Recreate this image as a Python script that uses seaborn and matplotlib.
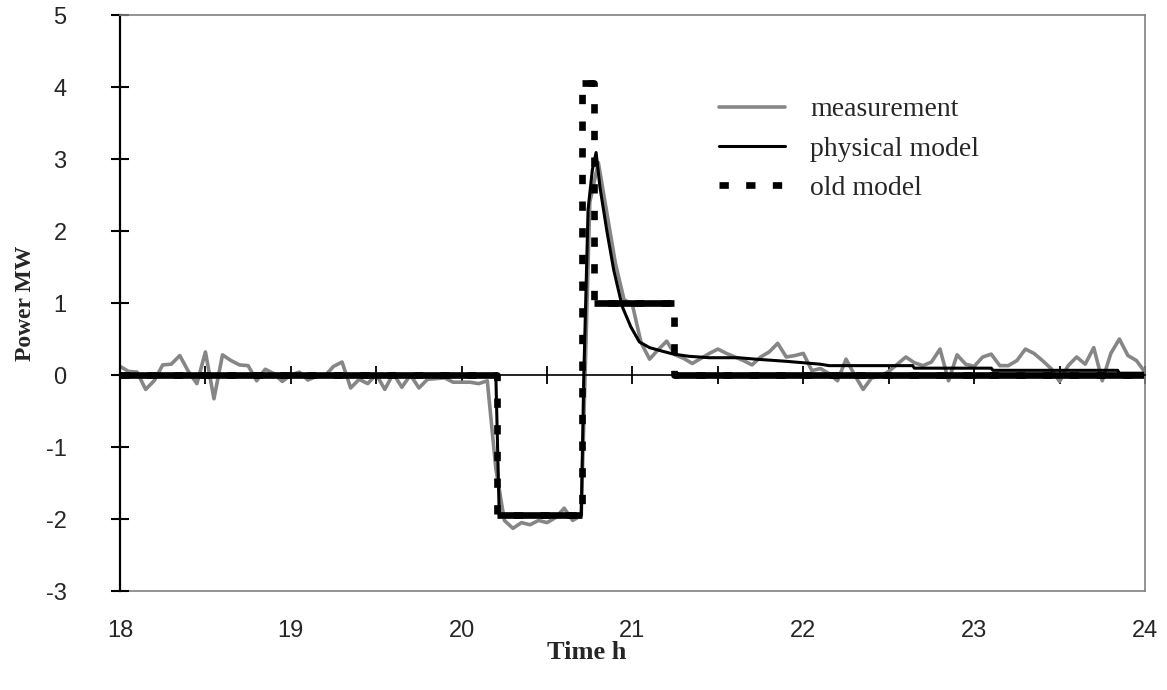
import numpy as np
import matplotlib
matplotlib.use("Agg")
import matplotlib.pyplot as plt
import seaborn as sns

# ---------------- data ----------------
meas_t = np.round(np.arange(18.0, 24.0001, 0.05), 2)
meas_p = [
    0.12, 0.05, 0.04, -0.20, -0.08, 0.14, 0.15, 0.27, 0.05, -0.12,
    0.32, -0.33, 0.28, 0.20, 0.14, 0.13, -0.08, 0.08, 0.02, -0.09,
    0.00, 0.04, -0.07, -0.02, -0.01, 0.12, 0.18, -0.18, -0.06, -0.12,
    0.01, -0.20, 0.02, -0.17, 0.00, -0.18, -0.06, -0.05, -0.04, -0.10,
    -0.10, -0.10, -0.12, -0.08, -1.30, -2.02, -2.13, -2.05, -2.08, -2.02,
    -2.05, -1.98, -1.85, -2.02, -1.95, 2.40, 2.95, 2.25, 1.55, 1.05,
    0.97, 0.45, 0.22, 0.35, 0.47, 0.28, 0.23, 0.16, 0.23, 0.30,
    0.36, 0.30, 0.25, 0.20, 0.14, 0.25, 0.32, 0.44, 0.25, 0.27,
    0.30, 0.06, 0.09, 0.02, -0.08, 0.22, 0.00, -0.20, -0.04, -0.02,
    0.05, 0.15, 0.25, 0.17, 0.13, 0.18, 0.36, -0.08, 0.28, 0.15,
    0.12, 0.25, 0.29, 0.13, 0.13, 0.20, 0.36, 0.30, 0.20, 0.09,
    -0.09, 0.13, 0.25, 0.15, 0.38, -0.08, 0.30, 0.50, 0.27, 0.20,
    0.04,
]

phys_t = [18.0, 20.20, 20.22, 20.70, 20.715, 20.74, 20.765, 20.787, 20.81,
          20.85, 20.89, 20.94, 20.99, 21.04, 21.10, 21.16, 21.24, 21.33,
          21.45, 21.62, 21.72, 21.90, 21.95, 22.10, 22.15, 22.64, 22.65,
          23.10, 23.11, 23.84, 23.85, 24.0]
phys_p = [0.0, 0.0, -1.95, -1.95, 0.0, 2.3, 2.85, 3.09, 2.6,
          2.0, 1.46, 0.95, 0.67, 0.46, 0.38, 0.34, 0.29, 0.26,
          0.24, 0.24, 0.22, 0.19, 0.18, 0.15, 0.13, 0.13, 0.095,
          0.095, 0.065, 0.065, 0.025, 0.025]

old_t = [18.0, 20.205, 20.205, 20.703, 20.703, 20.775, 20.775, 21.245, 21.245, 24.0]
old_p = [0.0, 0.0, -1.95, -1.95, 4.05, 4.05, 1.0, 1.0, 0.0, 0.0]

x_label_ticks = [18, 19, 20, 21, 22, 23, 24]
x_minor_ticks = np.arange(18.0, 24.01, 0.5)
y_ticks = [-3, -2, -1, 0, 1, 2, 3, 4, 5]

# ---------------- style ----------------
sns.set_style("white")
plt.rcParams["font.family"] = ["Liberation Sans", "DejaVu Sans"]
plt.rcParams["axes.unicode_minus"] = False

W, H = 1167, 690
fig = plt.figure(figsize=(W / 100, H / 100), dpi=100)
ax = fig.add_axes([120 / W, 1 - 591 / H, 1025 / W, 576 / H])

sns.lineplot(x=meas_t, y=meas_p, ax=ax, color="#868686", lw=2.6,
             label="measurement", estimator=None, sort=False)
sns.lineplot(x=phys_t, y=phys_p, ax=ax, color="black", lw=2.2,
             label="physical model", estimator=None, sort=False)
sns.lineplot(x=old_t, y=old_p, ax=ax, color="black", lw=4.8,
             label="old model", estimator=None, sort=False)
ax.lines[-1].set_linestyle((0, (1.4, 2.6)))
ax.lines[-1].set_dash_capstyle("butt")
# horizontal parts of the old model drawn solid
ax.hlines(old_p[0::2], old_t[0::2], old_t[1::2], color="black", lw=4.8)

ax.set_xlim(18, 24)
ax.set_ylim(-3, 5)

# spines
for s in ["top", "right"]:
    ax.spines[s].set_color("#808080")
    ax.spines[s].set_linewidth(1.2)
ax.spines["left"].set_color("black")
ax.spines["left"].set_linewidth(1.6)
ax.spines["bottom"].set_position(("data", 0))
ax.spines["bottom"].set_color("black")
ax.spines["bottom"].set_linewidth(1.2)

ax.set_xticks(x_minor_ticks)
ax.tick_params(axis="x", direction="inout", length=13, width=1.3,
               labelbottom=False, bottom=True, color="black")
ax.set_yticks(y_ticks)
ax.tick_params(axis="y", direction="inout", length=13, width=1.5,
               pad=32, labelsize=17, left=True, color="black")

sec = ax.secondary_xaxis("bottom")
sec.set_xticks(x_label_ticks)
sec.tick_params(axis="x", length=0, pad=21, labelsize=17)
sec.spines["bottom"].set_color("#808080")
sec.spines["bottom"].set_linewidth(1.2)

ax.set_ylabel("Power MW", family="Liberation Serif", fontweight="bold", fontsize=17)
ax.yaxis.set_label_coords(-0.082, 0.5)
ax.set_xlabel("Time h", family="Liberation Serif", fontweight="bold", fontsize=19)
ax.xaxis.set_label_coords(0.4556, -0.086)

leg = ax.legend(loc="upper left", bbox_to_anchor=(0.584, 0.858), frameon=False,
                prop={"family": "Liberation Serif", "size": 20},
                handlelength=2.4, handletextpad=0.9, labelspacing=0.5,
                borderpad=0, borderaxespad=0)

fig.savefig("out.png", dpi=100, facecolor="white")
